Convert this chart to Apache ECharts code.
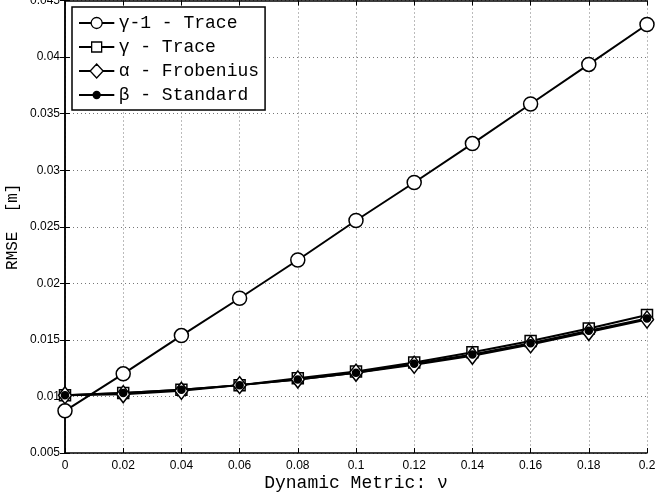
<!DOCTYPE html>
<html>
<head>
<meta charset="utf-8">
<script src="https://cdn.jsdelivr.net/npm/echarts@6/dist/echarts.min.js"></script>
<style>html,body{margin:0;padding:0;background:#fff;}#c{width:656px;height:495px;}</style>
</head>
<body>
<div id="c"></div>
<script>
var xValues = [0, 0.02, 0.04, 0.06, 0.08, 0.1, 0.12, 0.14, 0.16, 0.18, 0.2];
var gammaMinus1Trace = [0.00873, 0.0120, 0.01538, 0.01868, 0.02206, 0.02555, 0.02891, 0.03235, 0.03585, 0.03935, 0.04288];
var gammaTrace = [0.0101, 0.0103, 0.0106, 0.0110, 0.0116, 0.0122, 0.0130, 0.0139, 0.0149, 0.0160, 0.0172];
var alphaFrobenius = [0.0101, 0.0102, 0.0105, 0.0110, 0.0115, 0.0121, 0.0128, 0.0136, 0.0146, 0.0157, 0.0168];
var betaStandard = [0.0101, 0.0103, 0.0106, 0.0110, 0.0115, 0.0121, 0.0129, 0.0137, 0.0147, 0.0158, 0.0169];
var seriesNames = ['γ-1 - Trace', 'γ - Trace', 'α - Frobenius', 'β - Standard'];
var xTitle = 'Dynamic Metric: ν';
var yTitle = 'RMSE  [m]';

function pairs(ys) { return xValues.map(function (x, i) { return [x, ys[i]]; }); }
function fmt(v) { return String(parseFloat(v.toFixed(4))); }

// legend icons: 34 x 16 box, line + marker
var bbox = 'M0 0 L0.01 0 Z M34 16 L33.99 16 Z ';
function seg(a, b) { return 'M' + a + ' 7.75 L' + b + ' 7.75 L' + b + ' 8.25 L' + a + ' 8.25 Z '; }
var legendIcons = [
  'path://' + bbox + seg(0, 11.5) + seg(22.5, 34) + 'M22.5 8 A5.5 5.5 0 1 1 11.5 8 A5.5 5.5 0 1 1 22.5 8 Z',
  'path://' + bbox + seg(0, 12) + seg(22, 34) + 'M12 3 L22 3 L22 13 L12 13 Z',
  'path://' + bbox + seg(0, 10.5) + seg(23.5, 34) + 'M17 1 L23.5 8 L17 15 L10.5 8 Z',
  'path://' + bbox + seg(0, 34) + 'M20.5 8 A3.5 3.5 0 1 1 13.5 8 A3.5 3.5 0 1 1 20.5 8 Z'
];

var mono = 'Liberation Mono';
var sans = 'Liberation Sans';
var gridLine = { show: true, lineStyle: { color: '#777', type: [1, 3], width: 1 } };
var axLine = { show: true, lineStyle: { color: '#000', width: 1.5 } };
var tick = { show: true, inside: true, length: 5, lineStyle: { color: '#000', width: 1 } };

function lineSeries(name, data, symbol, size, fill) {
  return {
    name: name, type: 'line', data: pairs(data),
    symbol: symbol, symbolSize: size, showSymbol: true,
    lineStyle: { color: '#000', width: 2 },
    itemStyle: { color: fill, borderColor: '#000', borderWidth: 1.5 },
    emphasis: { disabled: true },
    animation: false
  };
}

var chart = echarts.init(document.getElementById('c'), null, { renderer: 'canvas' });
chart.setOption({
  backgroundColor: '#fff',
  animation: false,
  grid: { left: 65, right: 9, top: 0.5, bottom: 42, containLabel: false, outerBoundsMode: 'none' },
  legend: {
    orient: 'vertical', left: 72, top: 7,
    data: seriesNames.map(function (n, i) { return { name: n, icon: legendIcons[i] }; }),
    itemWidth: 34, itemHeight: 16, itemGap: 6,
    padding: [7, 6, 6, 7],
    itemStyle: { borderColor: '#000', borderWidth: 1.3 },
    borderColor: '#000', borderWidth: 1.5, backgroundColor: '#fff',
    textStyle: { fontFamily: mono, fontSize: 18, color: '#000' },
    z: 10
  },
  xAxis: [{
    type: 'value', min: 0, max: 0.2, interval: 0.02, position: 'bottom',
    name: xTitle, nameLocation: 'middle', nameGap: 21, nameMoveOverlap: false,
    nameTextStyle: { fontFamily: mono, fontSize: 18, color: '#000' },
    axisLine: axLine, axisTick: tick, splitLine: gridLine,
    axisLabel: { fontFamily: sans, fontSize: 12, color: '#000', margin: 7, formatter: fmt }
  }, {
    type: 'value', min: 0, max: 0.2, interval: 0.02, position: 'top',
    axisLine: axLine, axisTick: tick, splitLine: { show: false }, axisLabel: { show: false }
  }],
  yAxis: [{
    type: 'value', min: 0.005, max: 0.045, interval: 0.005, position: 'left',
    name: yTitle, nameLocation: 'middle', nameGap: 44, nameRotate: 90, nameMoveOverlap: false,
    nameTextStyle: { fontFamily: mono, fontSize: 16, color: '#000' },
    axisLine: axLine, axisTick: tick, splitLine: gridLine,
    axisLabel: { fontFamily: sans, fontSize: 12, color: '#000', margin: 5, formatter: fmt }
  }, {
    type: 'value', min: 0.005, max: 0.045, interval: 0.005, position: 'right',
    axisLine: axLine, axisTick: tick, splitLine: { show: false }, axisLabel: { show: false }
  }],
  series: [
    lineSeries(seriesNames[0], gammaMinus1Trace, 'circle', 14, '#fff'),
    lineSeries(seriesNames[1], gammaTrace, 'rect', 11, '#fff'),
    lineSeries(seriesNames[2], alphaFrobenius, 'diamond', [13, 17], '#fff'),
    lineSeries(seriesNames[3], betaStandard, 'circle', 7, '#000')
  ]
});
</script>
</body>
</html>
